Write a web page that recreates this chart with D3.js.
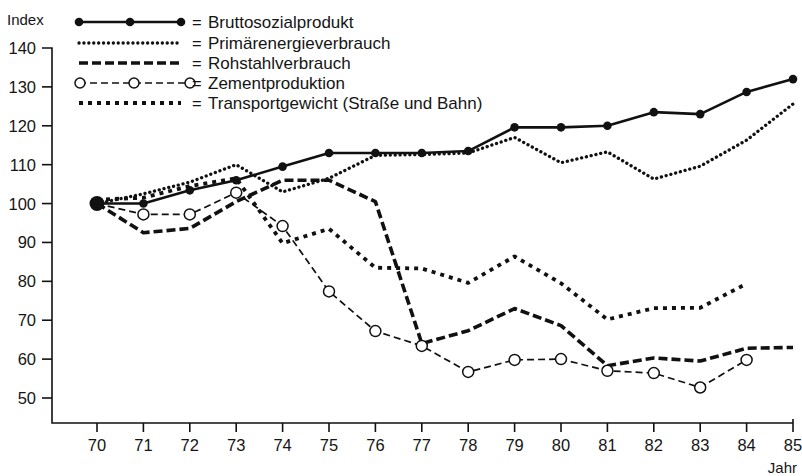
<!DOCTYPE html>
<html>
<head>
<meta charset="utf-8">
<script src="https://cdn.jsdelivr.net/npm/d3@7"></script>
<style>
  body { margin: 0; background: #fff; }
  svg text { font-family: "Liberation Sans", Arial, sans-serif; fill: #151515; }
</style>
</head>
<body>
<svg id="chart" width="802" height="476"></svg>
<script>
// years on the x axis (19xx)
const years = [70, 71, 72, 73, 74, 75, 76, 77, 78, 79, 80, 81, 82, 83, 84, 85];
const yTicks = [50, 60, 70, 80, 90, 100, 110, 120, 130, 140];

// index values (1970 = 100)
const bruttosozialprodukt = [100, 100, 103.4, 106, 109.5, 113, 113, 113, 113.5, 119.6, 119.6, 120, 123.5, 123, 128.7, 132];
const primaerenergie = [100, 102.5, 105.5, 110, 103, 106.5, 112.4, 112.6, 113, 117, 110.5, 113.3, 106.3, 109.6, 116.3, 125.6];
const rohstahl = [100, 92.5, 93.6, 100.5, 106, 106, 100.5, 64, 67.3, 73, 68.6, 58.3, 60.3, 59.5, 62.8, 63];
const zement = [100, 97.2, 97.2, 102.8, 94.2, 77.4, 67.2, 63.4, 56.7, 59.8, 60, 57, 56.4, 52.7, 59.8];
const transport = [101, 101.5, 104.5, 106.5, 89.8, 93.5, 83.5, 83.3, 79.6, 86.4, 79.5, 70.2, 73.1, 73.2, 79.4];

const legendNames = [
  "Bruttosozialprodukt",
  "Primärenergieverbrauch",
  "Rohstahlverbrauch",
  "Zementproduktion",
  "Transportgewicht (Straße und Bahn)"
];

const svg = d3.select("#chart");

const x = d3.scaleLinear().domain([70, 85]).range([97, 793]);
const y = d3.scaleLinear().domain([50, 140]).range([398, 48]);

const axisX = 52, axisY = 423;

// line styles per series
const styles = {
  primaer: { width: 3.3, dash: "0.1 4.8", cap: "round" },
  rohstahl: { width: 3.6, dash: "9 4", cap: "butt" },
  zement: { width: 1.7, dash: "7 4", cap: "butt" },
  transport: { width: 3.8, dash: "4 5", cap: "butt" },
  bsp: { width: 2.6, dash: null, cap: "butt" }
};

// axes
let axes = svg.append("g").attr("stroke", "#111").attr("stroke-width", 1.6).attr("fill", "none");
axes.append("path").attr("d", `M${axisX - 10},${y(140)}H${axisX}V${axisY}H${x(85)}`);
axes.selectAll(".ytick").data(yTicks.filter(d => d < 140)).enter()
  .append("line").attr("x1", axisX - 10).attr("x2", axisX)
  .attr("y1", d => y(d)).attr("y2", d => y(d));
axes.selectAll(".xtick").data(years).enter()
  .append("line").attr("x1", d => x(d)).attr("x2", d => x(d))
  .attr("y1", d => d === 85 ? axisY - 4 : axisY).attr("y2", axisY + 9);

svg.selectAll(".ylabel").data(yTicks).enter()
  .append("text").attr("x", 36).attr("y", d => y(d) + 6)
  .attr("text-anchor", "end").attr("font-size", 16.5).text(d => d);

svg.selectAll(".xlabel").data(years).enter()
  .append("text").attr("x", d => x(d)).attr("y", 451)
  .attr("text-anchor", "middle").attr("font-size", 16.5).text(d => d);

svg.append("text").attr("x", 7).attr("y", 25).attr("font-size", 15).text("Index");
svg.append("text").attr("x", 797).attr("y", 473).attr("text-anchor", "end").attr("font-size", 15).text("Jahr");

// data lines
const line = d3.line().x((d, i) => x(years[i])).y(d => y(d));

function drawLine(values, st) {
  svg.append("path").datum(values)
    .attr("d", line)
    .attr("fill", "none")
    .attr("stroke", "#111")
    .attr("stroke-width", st.width)
    .attr("stroke-linecap", st.cap)
    .attr("stroke-linejoin", "round")
    .attr("stroke-dasharray", st.dash);
}

drawLine(transport, styles.transport);
drawLine(primaerenergie, styles.primaer);
drawLine(rohstahl, styles.rohstahl);
drawLine(zement, styles.zement);
drawLine(bruttosozialprodukt, styles.bsp);

svg.selectAll(".zpt").data(zement).enter()
  .append("circle").attr("cx", (d, i) => x(years[i])).attr("cy", d => y(d))
  .attr("r", (d, i) => i === 0 ? 0 : 5.5)
  .attr("fill", "#fff").attr("stroke", "#111").attr("stroke-width", 1.5);

svg.selectAll(".bpt").data(bruttosozialprodukt).enter()
  .append("circle").attr("cx", (d, i) => x(years[i])).attr("cy", d => y(d))
  .attr("r", (d, i) => i === 0 ? 7.5 : 4.3)
  .attr("fill", "#111");

// legend
const legendRows = [22, 43, 63, 83, 103];
const legendStyles = [styles.bsp, styles.primaer, styles.rohstahl, styles.zement, styles.transport];
let legend = svg.append("g");
legendRows.forEach((ly, i) => {
  let st = legendStyles[i];
  let x2 = i === 3 ? 190 : 181;
  legend.append("line").attr("x1", 79).attr("x2", x2).attr("y1", ly).attr("y2", ly)
    .attr("stroke", "#111").attr("stroke-width", st.width)
    .attr("stroke-linecap", st.cap).attr("stroke-dasharray", st.dash);
  if (i === 0) {
    [79, 130, 181].forEach(cx => legend.append("circle").attr("cx", cx).attr("cy", ly).attr("r", 4.3).attr("fill", "#111"));
  }
  if (i === 3) {
    [80, 134, 190].forEach(cx => legend.append("circle").attr("cx", cx).attr("cy", ly).attr("r", 5)
      .attr("fill", "#fff").attr("stroke", "#111").attr("stroke-width", 1.5));
  }
  legend.append("text").attr("x", 192).attr("y", ly + 6).attr("font-size", 16.5).text("=");
  legend.append("text").attr("x", 208).attr("y", ly + 6).attr("font-size", 17).text(legendNames[i]);
});
</script>
</body>
</html>
